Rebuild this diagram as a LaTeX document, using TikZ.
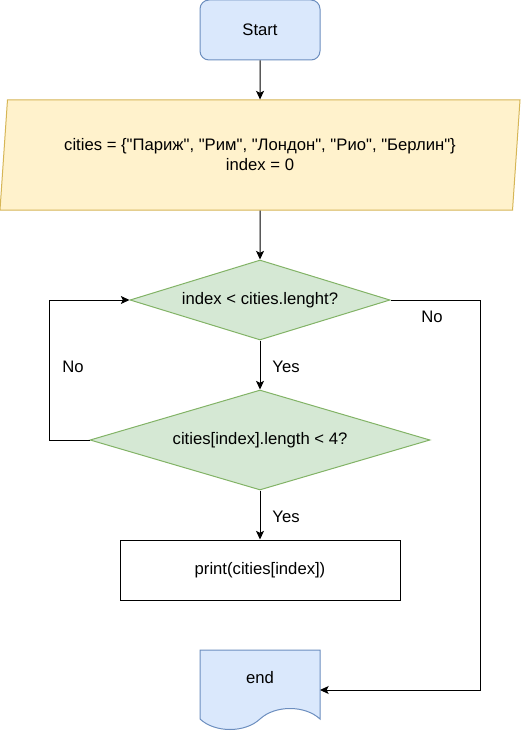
\documentclass[tikz,border=0pt]{standalone}
\usepackage{fontspec}
\setmainfont{Liberation Sans}
\usetikzlibrary{positioning}
\usetikzlibrary{shapes.geometric}
\usetikzlibrary{arrows.meta}
\definecolor{startfill}{HTML}{DAE8FC}
\definecolor{startline}{HTML}{6C8EBF}
\definecolor{datafill}{HTML}{FFF2CC}
\definecolor{dataline}{HTML}{D6B656}
\definecolor{askfill}{HTML}{D5E8D4}
\definecolor{askline}{HTML}{82B366}
\newcommand{\qt}[1]{\textquotedbl#1\textquotedbl}

\begin{document}
\begin{tikzpicture}[x=0.75pt, y=-0.75pt, line width=0.75pt,
		font=\fontsize{12.5}{15}\selectfont,
		>={Stealth[length=6.5pt,width=6pt,inset=1.5pt]}]
		\newcommand{\px}{0.75pt}
		\useasboundingbox (0,0) rectangle (521,731);
		
		\node[draw=startline, fill=startfill, rounded corners=6.75pt, minimum width=120*\px, minimum height=60*\px] (start) at (260,30) {Start};
		
		\node[trapezium, trapezium left angle=79.7, trapezium right angle=100.3, trapezium stretches body, draw=dataline, fill=datafill, minimum width=520*\px, minimum height=110*\px, align=center] (cities) at (260,155) {cities = \{\qt{Париж}, \qt{Рим}, \qt{Лондон}, \qt{Рио}, \qt{Берлин}\}\\index = 0};
		
		\node[diamond, draw=askline, fill=askfill, inner sep=0pt, aspect=3.25, minimum width=260*\px, minimum height=80*\px] (loop) at (260,300) {index < cities.lenght?};
		\node[diamond, draw=askline, fill=askfill, inner sep=0pt, aspect=3.4, minimum width=340*\px, minimum height=100*\px] (check) at (260,440) {cities[index].length < 4?};
		
		\node[draw, minimum width=280*\px, minimum height=60*\px] (print) at (260,570) {print(cities[index])};
		
		\draw[draw=startline, fill=startfill] (200,650) -- (320,650) -- (320,719) .. controls (305,705) and (275,705) .. (260,719) .. controls (245,733) and (215,733) .. (200,719) -- cycle;
		\node (stop) at (260,678) {end};
		\coordinate (stopin) at (320,690);
		
		\node (yes1) at (286,367) {Yes};
		\node (yes2) at (286,517) {Yes};
		\node (no1) at (73,367) {No};
		\node (no2) at (432,317) {No};
		
		\draw[->] (start) to (cities);
		\draw[->] (cities) to (loop);
		\draw[->] (loop) to (check);
		\draw[->] (check) to (print);
		\draw[->] (check.west) -- ++(-40,0) |- (loop.west);
		\draw[->] (loop.east) -- ++(90,0) |- (stopin);
	\end{tikzpicture}
\end{document}
